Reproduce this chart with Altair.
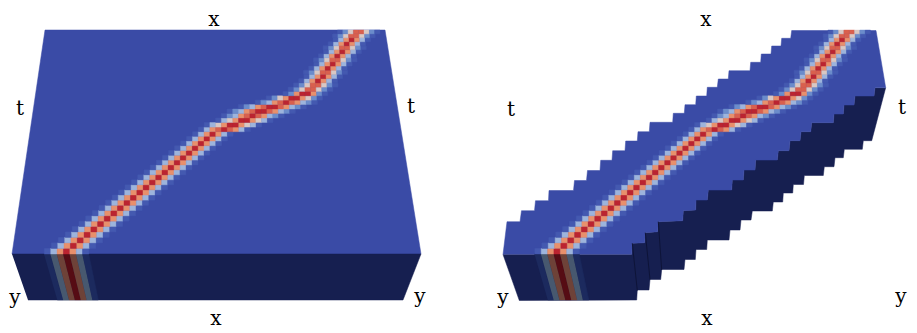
import altair as alt
import pandas as pd

# ---- colour levels of the field (cool-warm) ----
top_colors = {"1": "#4459b0", "2": "#6b8ccb", "3": "#9db4dc", "4": "#d8c8c4",
              "5": "#e8906c", "6": "#d9604e", "7": "#bb2430", "8": "#a80c22"}
front_colors = {"1": "#1c2a5e", "3": "#47586f", "5": "#6e4238", "7": "#560c14"}
surface = "#3a4ba6"
side = "#161f50"
crease = "#0e1438"

# ---- ridge: first column and level string, one row per time step, bottom to top ----
S7 = "1357531"
S8 = "12466421"
ridge_start = [5, 6, 7, 8, 9, 10, 11, 12, 13, 14, 15, 16, 17, 18, 19, 20, 21, 22, 23, 24, 25, 26, 27, 28,
               29, 30, 32, 33, 34, 36, 39, 41, 44, 45, 46, 47, 48, 48, 49, 50, 50, 51, 52, 52, 53, 54, 54, 55]
ridge_levels = [S7] * 24 + [
    "135676531", "1345775431", "1345775431", "12356765321", "123567765321",
    "123567765321", "12356765321", "1245775421", "12577521", S8,
    S8, S7, S7, S8, S7, S7, S8, S7, S7, S8, S7, S7, S8, S8]

# ---- outlines, in picture coordinates ----
left_top_x = [12, 45, 385, 421]
left_top_y = [254, 30, 30, 254]
left_side_x = [12, 421, 403, 28]
left_side_y = [254, 254, 300, 300]

right_top_x = [503, 507, 520, 521.5, 534.5, 535.5, 548.5, 549, 573.5, 574.5, 586.5, 587.5, 600, 600.7, 612,
               612.7, 625, 625.7, 637.3, 638, 649.3, 650, 672.7, 673.3, 684.3, 685, 695.7, 696.3, 706.7, 707.3,
               717.3, 718.3, 728.3, 729, 750, 750.7, 760.7, 761.3, 771, 771.7, 781, 781.7, 790.7, 791.7, 876,
               885.7, 875, 874, 855, 854, 844, 843.3, 834, 833.3, 811.7, 810.7, 801, 800, 790, 789, 778.3,
               777.3, 755.7, 755, 744, 743.3, 732.3, 731.7, 708.3, 707.3, 696, 695.7, 683.3, 682.7, 658.3,
               657.7, 645.3, 644.7, 632.3, 631.7]
right_top_y = [254.5, 221.7, 221.7, 210.7, 210.7, 200.7, 200.7, 190.5, 190.5, 180.5, 180.5, 170.5, 170.5, 160.3,
               160.3, 150.7, 150.7, 141, 141, 131.7, 131.7, 122.3, 122.3, 113.3, 113.3, 104.7, 104.7, 96, 96,
               87.3, 87.3, 79, 79, 70.7, 70.7, 62.3, 62.3, 54, 54, 46, 46, 38.3, 38.3, 30.5, 30.5,
               87.7, 87.7, 96, 96, 105, 105, 114, 114, 122.7, 122.7, 131.7, 131.7, 140.7, 140.7, 150.7, 150.7,
               160, 160, 170, 170, 180, 180, 190, 190, 200, 200, 210, 210.7, 220.7, 221.7,
               231.7, 232.7, 242.7, 243.3, 254.5]
right_side_x = [885.7, 871.7, 863.3, 862.3, 844.3, 843.3, 835, 834, 824.3, 823.3, 804.3, 803.5, 793.3, 792.7,
                783.3, 782.7, 773.3, 772.3, 752.3, 751, 741, 740, 730, 729, 707.3, 706.7, 696, 695.3, 685, 684,
                661.7, 660.7, 650, 649, 637.3, 636.7, 519.3, 503, 631.7, 632.3, 644.7, 645.3, 657.7, 658.3,
                682.7, 683.3, 695.7, 696, 707.3, 708.3, 731.7, 732.3, 743.3, 744, 755, 755.7, 777.3, 778.3, 789,
                790, 800, 801, 810.7, 811.7, 833.3, 834, 843.3, 844, 854, 855, 874, 875]
right_side_y = [87.7, 140.7, 140.7, 149.3, 149.3, 157.7, 157.7, 166.7, 166.7, 175.5, 175.5, 184.5, 184.5, 193,
                193, 202, 202, 211, 211, 220, 220, 230, 230, 240, 240, 249.5, 249.5, 259.5, 259.5, 269.5,
                269.5, 279.5, 279.5, 290, 290, 300, 300.5, 254.5, 254.5, 243.3, 242.7, 232.7, 231.7, 221.7,
                220.7, 210.7, 210, 200, 200, 190, 190, 180, 180, 170, 170, 160, 160, 150.7, 150.7,
                140.7, 140.7, 131.7, 131.7, 122.7, 122.7, 114, 114, 105, 105, 96, 96, 87.7]
crease_x1 = [632.3, 645.3, 658.3]
crease_y1 = [243.3, 232.7, 221.7]
crease_x2 = [637.3, 650, 661.7]
crease_y2 = [290.5, 279.5, 270]

# ---- axis letters ----
label_text = ["x", "t", "t", "y", "y", "x", "x", "t", "t", "y", "y", "x"]
label_x = [214, 20, 411, 15, 420, 216, 706, 511, 902, 503, 901, 707]
label_y = [20, 109, 107, 298, 297, 319, 20, 110, 108, 298, 297, 319]

# ---- perspective of the top face ----
N_ROWS, N_COLS = len(ridge_start), 64
K = 0.203
YB, YT = 254.0, 30.0


def s_of(row):
    v = row / N_ROWS
    return v * (1 + K) / (1 + K * v)


def y_of(row):
    return YB - (YB - YT) * s_of(row)


def x_of(col, row, dx):
    s = s_of(row)
    return 12 + 33 * s + col * (409 - 69 * s) / N_COLS + dx


cells = []
for dx in (0, 490.5):
    for r, (start, levels) in enumerate(zip(ridge_start, ridge_levels)):
        for i, ch in enumerate(levels):
            c = start + i
            cells.append({"x": x_of(c, r + .5, dx), "x2": x_of(c + 1, r + .5, dx),
                          "y": y_of(r), "y2": y_of(r + 1), "c": top_colors[ch]})

X = alt.X("x:Q", scale=alt.Scale(domain=[8, 909], range=[0, 901]), axis=None)
Y = alt.Y("y:Q", scale=alt.Scale(domain=[333, 8], range=[325, 0]), axis=None)


def poly(xs, ys, color):
    df = pd.DataFrame({"x": xs, "y": ys, "o": range(len(xs))})
    return alt.Chart(df).mark_line(fill=color, stroke=color, strokeWidth=0.5).encode(
        x=X, y=Y, order="o:Q")


layers = [poly(left_top_x, left_top_y, surface), poly(left_side_x, left_side_y, side),
          poly(right_side_x, right_side_y, side), poly(right_top_x, right_top_y, surface)]

# front-face stripes
for dx in (0, 490.5):
    for i, ch in enumerate(S7):
        c = 5 + i
        wt, wb = 409 / N_COLS, (403 - 28) / N_COLS
        layers.append(poly([12 + c * wt + dx, 12 + (c + 1) * wt + dx, 28 + (c + 1) * wb + dx, 28 + c * wb + dx],
                           [254, 254, 300, 300], front_colors[ch]))

for xa, ya, xb, yb in zip(crease_x1, crease_y1, crease_x2, crease_y2):
    df = pd.DataFrame({"x": [xa, xb], "y": [ya, yb], "o": [0, 1]})
    layers.append(alt.Chart(df).mark_line(color=crease, strokeWidth=1).encode(x=X, y=Y, order="o:Q"))

cell_chart = alt.Chart(pd.DataFrame(cells)).mark_rect(strokeWidth=0.4).encode(
    x=X, x2="x2:Q", y=Y, y2="y2:Q",
    fill=alt.Fill("c:N", scale=None), stroke=alt.Stroke("c:N", scale=None))
layers.append(cell_chart)

text_chart = alt.Chart(pd.DataFrame({"x": label_x, "y": label_y, "t": label_text})).mark_text(
    font="DejaVu Serif", fontSize=20, color="#000000", baseline="middle", align="center"
).encode(x=X, y=Y, text="t:N")
layers.append(text_chart)

chart = alt.layer(*layers).properties(width=901, height=325, padding=0,
                                      autosize=alt.AutoSizeParams(type="none")).configure_view(stroke=None)
chart.save("out.html", embed_options={"renderer": "svg", "actions": False})
